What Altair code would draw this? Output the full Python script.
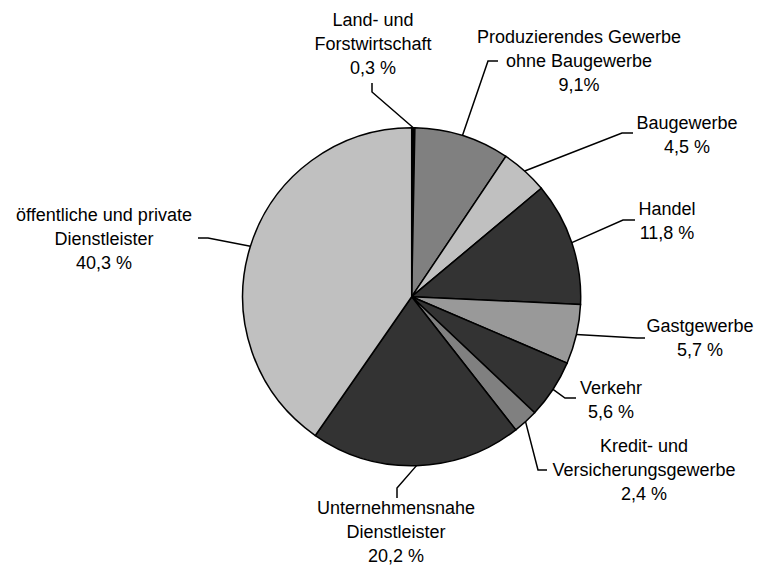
import math
import altair as alt
import pandas as pd

# ---- data ----
categories = [
    "Land- und Forstwirtschaft",
    "Produzierendes Gewerbe ohne Baugewerbe",
    "Baugewerbe",
    "Handel",
    "Gastgewerbe",
    "Verkehr",
    "Kredit- und Versicherungsgewerbe",
    "Unternehmensnahe Dienstleister",
    "öffentliche und private Dienstleister",
]
values = [0.3, 9.1, 4.5, 11.8, 5.7, 5.6, 2.4, 20.2, 40.3]
value_texts = ["0,3 %", "9,1%", "4,5 %", "11,8 %", "5,7 %", "5,6 %", "2,4 %", "20,2 %", "40,3 %"]
name_lines = [
    "Land- und\nForstwirtschaft",
    "Produzierendes Gewerbe\nohne Baugewerbe",
    "Baugewerbe",
    "Handel",
    "Gastgewerbe",
    "Verkehr",
    "Kredit- und\nVersicherungsgewerbe",
    "Unternehmensnahe\nDienstleister",
    "öffentliche und private\nDienstleister",
]

# ---- styles / layout ----
colors = ["#000000", "#808080", "#c0c0c0", "#333333", "#999999",
          "#333333", "#808080", "#333333", "#c0c0c0"]
W, H = 746, 558
CX, CY, R = 411.7, 296.7, 169
# leader line elbows and ends (page pixels)
elbow = [(372, 92), (488, 61), (622, 133), (623, 220), (637, 338),
         (565, 398), (538, 470), (397, 488), (208, 238)]
ends = [(372, 83), (498, 61), (633, 133), (635, 220), (645, 338),
        (576, 398), (547, 470), (397, 498), (198, 238)]
# label positions: horizontal center and first-line center (page pixels)
label_pos = [(373, 21), (579, 38), (687, 124), (667, 210), (700, 327),
             (611, 389), (644, 447), (396, 509), (104, 216)]

total = sum(values)
pie_df = pd.DataFrame({"cat": categories, "value": values, "idx": list(range(len(values)))})

rows = []
cum = 0.0
for i, v in enumerate(values):
    mid = (cum + v / 2) / total * 2 * math.pi
    cum += v
    ex = CX + R * math.sin(mid)
    ey = CY - R * math.cos(mid)
    pts = [(ex, ey), elbow[i], ends[i]]
    for k, (px, py) in enumerate(pts):
        rows.append({"cat": categories[i], "k": k, "px": px, "py": py})
line_df = pd.DataFrame(rows)

label_df = pd.DataFrame({
    "cat": categories,
    "label": [n + "\n" + t for n, t in zip(name_lines, value_texts)],
    "px": [p[0] for p in label_pos],
    "py": [p[1] for p in label_pos],
})

xs = alt.Scale(domain=[8, 8 + W], range=[0, W], nice=False, zero=False)
ys = alt.Scale(domain=[8, 8 + H], range=[0, H], nice=False, zero=False)

pie = alt.Chart(pie_df).mark_arc(
    outerRadius=R, stroke="black", strokeWidth=1.5
).encode(
    theta=alt.Theta("value:Q", stack=True),
    order=alt.Order("idx:Q"),
    color=alt.Color("cat:N", scale=alt.Scale(domain=categories, range=colors), legend=None),
    x=alt.value(CX - 8),
    y=alt.value(CY - 8),
)

lines = alt.Chart(line_df).mark_line(color="black", strokeWidth=1.5).encode(
    x=alt.X("px:Q", scale=xs, axis=None),
    y=alt.Y("py:Q", scale=ys, axis=None),
    detail="cat:N",
    order="k:Q",
)

labels = alt.Chart(label_df).mark_text(
    font="Liberation Sans", fontSize=18, lineHeight=24, align="center",
    baseline="middle", color="black", lineBreak="\n"
).encode(
    x=alt.X("px:Q", scale=xs, axis=None),
    y=alt.Y("py:Q", scale=ys, axis=None),
    text="label:N",
)

chart = alt.layer(pie, lines, labels).properties(
    width=W, height=H, padding=0, autosize=alt.AutoSizeParams(type="none"),
    background="white"
).configure_view(stroke=None)

chart.save("out.html", embed_options={"renderer": "svg", "actions": False})
